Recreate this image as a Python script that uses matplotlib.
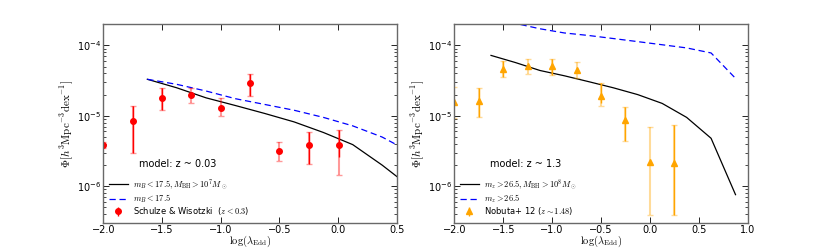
import numpy as np
import matplotlib
matplotlib.use("Agg")
import matplotlib.pyplot as plt

plt.rcParams["mathtext.fontset"] = "cm"
plt.rcParams["font.size"] = 7
plt.rcParams["xtick.direction"] = "in"
plt.rcParams["ytick.direction"] = "in"
plt.rcParams["xtick.top"] = True
plt.rcParams["ytick.right"] = True

# model grid (log lambda_Edd)
model_x = [-1.625, -1.375, -1.125, -0.875, -0.625, -0.375, -0.125, 0.125, 0.375, 0.625, 0.875]

# z ~ 0.03 model
low_mbh = [3.3e-5, 2.5e-5, 1.8e-5, 1.4e-5, 1.08e-5, 8.2e-6, 5.8e-6, 3.9e-6, 2.0e-6, 9.5e-7, 4.0e-7]
low_all = [3.3e-5, 2.8e-5, 2.25e-5, 1.75e-5, 1.45e-5, 1.2e-5, 9.5e-6, 7.2e-6, 5.0e-6, 3.0e-6, 1.5e-6]

# z ~ 1.3 model
high_mbh = [7.2e-5, 5.7e-5, 4.4e-5, 3.7e-5, 3.05e-5, 2.5e-5, 2.0e-5, 1.5e-5, 9.5e-6, 4.8e-6, 7.6e-7]
high_all = [2.35e-4, 2.05e-4, 1.72e-4, 1.5e-4, 1.38e-4, 1.25e-4, 1.13e-4, 1.02e-4, 9.2e-5, 7.8e-5, 3.4e-5]

# Schulze & Wisotzki (z < 0.3)
sw_x = [-2.0, -1.75, -1.5, -1.25, -1.0, -0.75, -0.5, -0.25, 0.01]
sw_y = [3.9e-6, 8.5e-6, 1.8e-5, 2.0e-5, 1.3e-5, 2.95e-5, 3.2e-6, 3.85e-6, 3.9e-6]
sw_lo = [3.5e-6, 3.0e-6, 1.22e-5, 1.5e-5, 1.0e-5, 1.92e-5, 2.3e-6, 2.1e-6, 1.43e-6]
sw_hi = [4.3e-6, 1.4e-5, 2.5e-5, 2.46e-5, 1.78e-5, 3.9e-5, 4.3e-6, 5.8e-6, 6.3e-6]
sw_solid_lo = [3.9e-6, 3.0e-6, 1.22e-5, 2.0e-5, 1.3e-5, 1.92e-5, 3.2e-6, 2.1e-6, 2.6e-6]
sw_solid_hi = [3.9e-6, 1.4e-5, 2.5e-5, 2.0e-5, 1.3e-5, 3.9e-5, 3.2e-6, 5.8e-6, 6.3e-6]

# Nobuta+ 12 (z ~ 1.48)
nb_x = [-2.0, -1.75, -1.5, -1.25, -1.0, -0.75, -0.5, -0.25, 0.0, 0.25]
nb_y = [1.55e-5, 1.6e-5, 4.55e-5, 5.1e-5, 5.1e-5, 4.4e-5, 1.92e-5, 8.8e-6, 2.2e-6, 2.15e-6]
nb_lo = [9.4e-6, 9.7e-6, 3.6e-5, 3.9e-5, 3.8e-5, 3.4e-5, 1.36e-5, 4.4e-6, 3.9e-7, 3.9e-7]
nb_hi = [2.6e-5, 2.45e-5, 6.0e-5, 6.5e-5, 6.5e-5, 5.8e-5, 2.9e-5, 1.34e-5, 7.0e-6, 7.5e-6]
nb_solid_lo = [1.55e-5, 9.7e-6, 3.6e-5, 5.1e-5, 3.8e-5, 4.4e-5, 1.5e-5, 4.4e-6, 2.2e-6, 3.9e-7]
nb_solid_hi = [1.55e-5, 2.45e-5, 6.0e-5, 5.1e-5, 6.5e-5, 4.4e-5, 2.9e-5, 1.34e-5, 2.2e-6, 7.5e-6]


def err(y, lo, hi):
    y = np.array(y)
    return [y - np.array(lo), np.array(hi) - y]


fig = plt.figure(figsize=(8.3, 2.49), dpi=100)
ax1 = fig.add_axes([0.1245, 0.104, 0.3535, 0.799])
ax2 = fig.add_axes([0.5474, 0.104, 0.3535, 0.799])

panels = [
    (ax1, low_mbh, low_all, sw_x, sw_y, sw_lo, sw_hi, sw_solid_lo, sw_solid_hi,
     "red", "o", 0.5, "model: z ~ 0.03",
     [r"$m_B<17.5, M_{\rm BH}>10^7M_\odot$", r"$m_B<17.5$",
      r"Schulze & Wisotzki  ($z<0.3$)"]),
    (ax2, high_mbh, high_all, nb_x, nb_y, nb_lo, nb_hi, nb_solid_lo, nb_solid_hi,
     "orange", "^", 1.0, "model: z ~ 1.3",
     [r"$m_z>26.5, M_{\rm BH}>10^8M_\odot$", r"$m_z>26.5$",
      r"Nobuta+ 12 ($z\sim1.48$)"]),
]

for (ax, mbh, allm, dx, dy, lo, hi, slo, shi, col, mk, xmax, note, labels) in panels:
    l1, = ax.plot(model_x, mbh, "-", color="black", lw=0.9)
    l2, = ax.plot(model_x, allm, "--", color="blue", lw=0.9, dashes=(5, 3))
    ax.errorbar(dx, dy, yerr=err(dy, lo, hi), fmt="none", ecolor=col,
                alpha=0.4, elinewidth=1.5, capsize=2, capthick=1)
    h3 = ax.errorbar(dx, dy, yerr=err(dy, slo, shi), fmt=mk, color=col,
                     ecolor=col, ms=4, mec=col, elinewidth=1.0, capsize=0)
    ax.set_yscale("log")
    ax.set_ylim(3e-7, 2e-4)
    ax.set_xlim(-2.0, xmax)
    ax.set_xticks(np.arange(-2.0, xmax + 0.01, 0.5))
    ax.set_xlabel(r"$\log(\lambda_{\rm Edd})$", fontsize=7.5, labelpad=-1)
    ax.set_ylabel(r"$\Phi[h^3{\rm Mpc}^{-3}{\rm dex}^{-1}]$", fontsize=8,
                  labelpad=1)
    ax.text(0.12, 0.28, note, transform=ax.transAxes, fontsize=7)
    for s in ax.spines.values():
        s.set_color("dimgray")
        s.set_linewidth(1.0)
    ax.tick_params(which="major", length=4, width=0.6, pad=1.5)
    ax.tick_params(which="minor", length=2, width=0.5)
    ax.legend([l1, l2, h3], labels, loc="lower left", fontsize=6,
              frameon=False, handlelength=2.2, borderaxespad=0.3,
              labelspacing=0.05, handletextpad=0.6)

fig.savefig("out.png", dpi=100)
